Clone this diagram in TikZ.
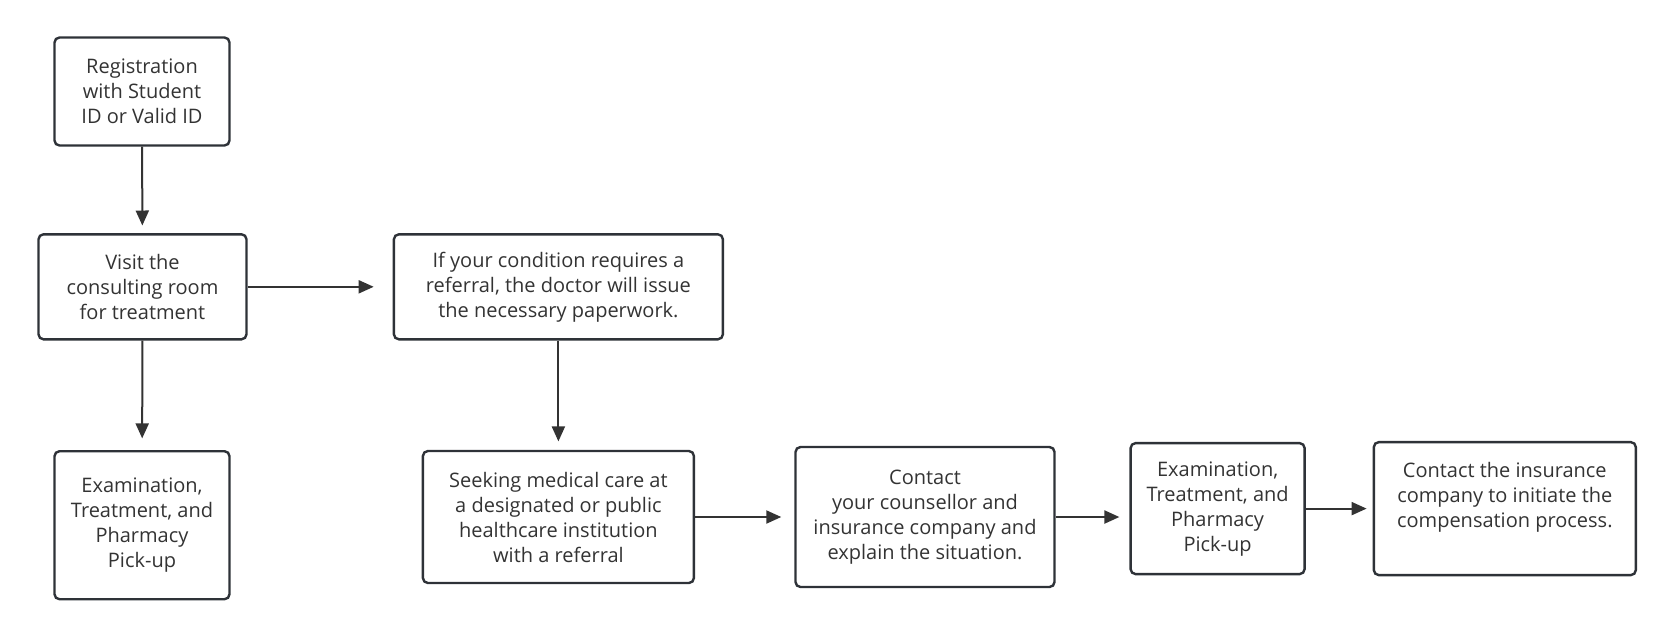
\documentclass[tikz,border=0pt]{standalone}
\usepackage{fontspec}
\setmainfont{Open Sans}
\usetikzlibrary{positioning,arrows.meta}
\definecolor{boxline}{HTML}{2E3238}
\definecolor{ink}{HTML}{333333}

\begin{document}
\begin{tikzpicture}[x=0.5pt,y=-0.5pt,
  box/.style={draw=boxline,line width=1.2pt,rounded corners=2.5pt,align=center,inner sep=0pt,text=ink,font=\fontsize{10}{12.5}\selectfont},
  >={Triangle[length=7.5pt,width=6.5pt]},
  arr/.style={->,draw=ink,line width=1pt,shorten >=5pt}]
  \useasboundingbox (0,0) rectangle (1674,638);

  \node[box,minimum width=87.5pt,minimum height=54pt] (reg) at (142,91.5) {Registration\\with Student\\ID or Valid ID};
  \node[box,minimum width=104pt,minimum height=52.5pt] (visit) at (142.5,286.8) {Visit the\\consulting room\\for treatment};
  \node[box,minimum width=87.5pt,minimum height=74pt] (exam1) at (142,525.2) {Examination,\\Treatment, and\\Pharmacy\\Pick-up};
  \node[box,minimum width=164.5pt,minimum height=52.5pt] (refer) at (558.4,286.8) {If your condition requires a\\referral, the doctor will issue\\the necessary paperwork.};
  \node[box,minimum width=135.5pt,minimum height=66pt] (seek) at (558.4,517) {Seeking medical care at\\a designated or public\\healthcare institution\\with a referral};
  \node[box,minimum width=129.5pt,minimum height=70pt] (contact) at (925,517) {Contact\\your counsellor and\\insurance company and\\explain the situation.};
  \node[box,minimum width=87pt,minimum height=65.5pt] (exam2) at (1217.6,508.6) {Examination,\\Treatment, and\\Pharmacy\\Pick-up};
  \node[box,minimum width=131pt,minimum height=66.5pt,
    label={[align=center,yshift=5.5pt,text=ink,font=\fontsize{10}{12.5}\selectfont]center:Contact the insurance\\company to initiate the\\compensation process.}] (claim) at (1504.8,508.6) {};

  \draw[arr,shorten >=3.8pt] (reg) -- (visit);
  \draw[arr,shorten >=5.8pt] (visit) -- (exam1);
  \draw[arr,shorten >=9.5pt] (visit) -- (refer);
  \draw[arr,shorten >=4.2pt] (refer) -- (seek);
  \draw[arr,shorten >=6.5pt] (seek) -- (contact);
  \draw[arr] (contact) -- (contact -| exam2.west);
  \draw[arr,shorten >=3pt] (exam2) -- (claim);
\end{tikzpicture}
\end{document}
